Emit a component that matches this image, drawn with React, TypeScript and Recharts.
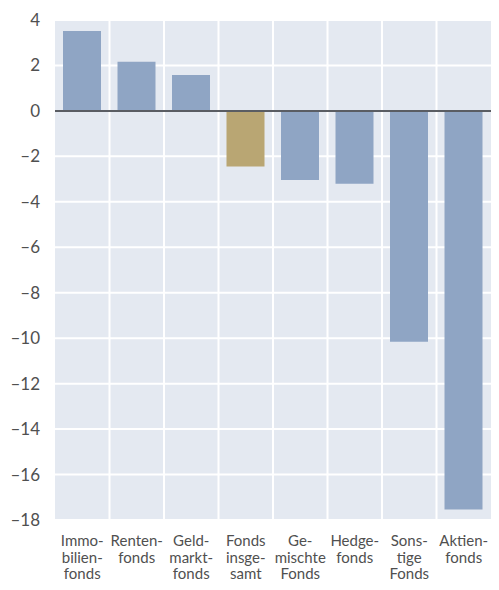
import React from 'react';
import {
  BarChart,
  Bar,
  XAxis,
  YAxis,
  CartesianGrid,
  ReferenceLine,
  Cell,
} from 'recharts';

const categories = [
  'Immo-\nbilien-\nfonds',
  'Renten-\nfonds',
  'Geld-\nmarkt-\nfonds',
  'Fonds\ninsge-\nsamt',
  'Ge-\nmischte\nFonds',
  'Hedge-\nfonds',
  'Sons-\ntige\nFonds',
  'Aktien-\nfonds',
];
const values = [3.52, 2.16, 1.58, -2.45, -3.04, -3.2, -10.16, -17.54];
const highlighted = ['Fonds\ninsge-\nsamt'];
const yTicks = [4, 2, 0, -2, -4, -6, -8, -10, -12, -14, -16, -18];

const data = categories.map((name, i) => ({ name, value: values[i] }));

const FONT = 'Lato, "Open Sans", sans-serif';
const TEXT = '#505050';

// multi-line category label, one tspan per line
const CategoryTick = (props: any) => {
  const { x, y, payload } = props;
  const lines = String(payload.value).split('\n');
  return (
    <text x={x} y={y} textAnchor="middle" fill={TEXT} fontSize={15} fontFamily={FONT}>
      {lines.map((line, i) => (
        <tspan key={i} x={x} dy={i === 0 ? 24 : 16.5}>
          {line}
        </tspan>
      ))}
    </text>
  );
};

const App = () => {
  return (
    <BarChart
      width={483}
      height={574}
      data={data}
      margin={{ top: 12, right: 0, bottom: 0, left: 0 }}
      barSize={38}
    >
      <CartesianGrid
        fill="#e4e9f1"
        stroke="#ffffff"
        strokeWidth={2}
        verticalCoordinatesGenerator={({ offset }: any) =>
          categories.slice(1).map((_, i) => offset.left + ((i + 1) * offset.width) / categories.length)
        }
      />
      <XAxis
        dataKey="name"
        height={62}
        axisLine={false}
        tickLine={false}
        tickSize={0}
        interval={0}
        tick={<CategoryTick />}
      />
      <YAxis
        width={47}
        domain={[-18, 4]}
        ticks={yTicks}
        axisLine={false}
        tickLine={false}
        tickSize={0}
        tickMargin={15}
        interval={0}
        tickFormatter={(v: number) => (v < 0 ? `–${Math.abs(v)}` : `${v}`)}
        tick={{ fill: TEXT, fontSize: 17, fontFamily: FONT }}
      />
      <Bar dataKey="value" isAnimationActive={false}>
        {data.map((d) => (
          <Cell key={d.name} fill={highlighted.includes(d.name) ? '#b9a673' : '#8fa5c4'} />
        ))}
      </Bar>
      <ReferenceLine y={0} stroke="#5a5d63" strokeWidth={2} />
    </BarChart>
  );
};

export default App;
